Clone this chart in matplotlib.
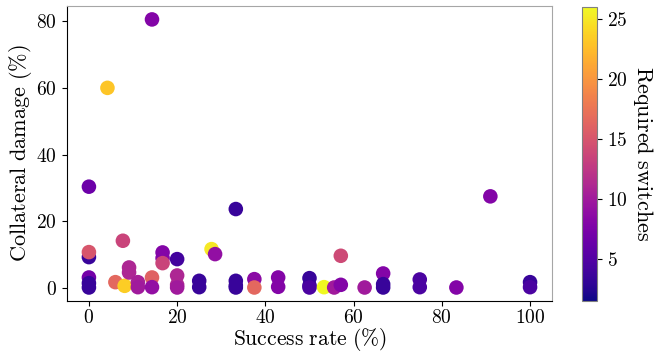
import matplotlib
matplotlib.use("Agg")
import matplotlib.pyplot as plt
import numpy as np

plt.rcParams['mathtext.fontset'] = 'cm'
plt.rcParams['font.family'] = 'serif'
plt.rcParams['font.serif'] = ['cmr10', 'DejaVu Serif']
plt.rcParams['axes.formatter.use_mathtext'] = True
plt.rcParams['axes.unicode_minus'] = False

# success rate (%), collateral damage (%), required switches
success = [14.3, 4.2, 0, 33.3, 91.0,
           0, 0, 0, 0, 0,
           7.7, 6.0, 8.1, 9.1, 9.1, 11.1, 11.1, 14.3, 14.3,
           16.7, 16.7, 16.7, 20, 20, 20, 20,
           25, 25, 27.8, 28.6, 33.3, 33.3, 33.3,
           37.5, 37.5, 42.9, 42.9, 50, 50, 50,
           53.3, 55.6, 57.1, 57.1, 62.5,
           66.7, 66.7, 66.7, 75, 75, 83.3, 100, 100]
damage = [80.5, 60.0, 30.4, 23.7, 27.5,
          9.3, 10.8, 3.2, 1.5, 0.2,
          14.2, 1.8, 0.7, 6.2, 4.7, 1.8, 0.3, 3.2, 0.3,
          10.7, 9.0, 7.5, 8.7, 3.8, 1.0, 0.2,
          2.2, 0.3, 11.7, 10.2, 2.2, 0.8, 0.2,
          2.7, 0.2, 3.2, 0.4, 3.0, 0.8, 0.2,
          0.3, 0.2, 1.0, 9.7, 0.2,
          4.4, 1.2, 0.2, 2.6, 0.3, 0.2, 1.8, 0.3]
switches = [8, 23, 6.5, 3.5, 8,
            3.5, 15, 7, 3.5, 3.5,
            13.5, 16.5, 23.5, 11, 11, 10.5, 10, 16, 9,
            8, 8, 13.5, 4, 11, 11, 10,
            3.5, 3.5, 25, 9, 3.5, 3.5, 3.5,
            8.5, 16.5, 8, 8, 3.5, 3.5, 4.5,
            26, 10, 8, 14, 10,
            8, 3.5, 3.5, 4.5, 4.5, 8, 3.5, 4.5]

fig = plt.figure(figsize=(6.62, 3.54), dpi=100)
ax = fig.add_axes([0.101, 0.15, 0.733, 0.833])
cax = fig.add_axes([0.879, 0.15, 0.023, 0.831])

sc = ax.scatter(success, damage, c=switches, cmap='plasma', vmin=1.5, vmax=26,
                s=110, linewidths=0)

ax.set_xlabel(r'$\mathrm{Success\ rate\ (\%)}$', fontsize=15.5, labelpad=-1)
ax.set_ylabel(r'$\mathrm{Collateral\ damage\ (\%)}$', fontsize=16, labelpad=2)
ax.set_xticks([0, 20, 40, 60, 80, 100])
ax.set_yticks([0, 20, 40, 60, 80])
ax.tick_params(labelsize=14)
ax.tick_params(axis='x', pad=2.5)
for side in ['top', 'right']:
    ax.spines[side].set_color('0.65')

cb = fig.colorbar(sc, cax=cax)
cb.set_ticks([5, 10, 15, 20, 25])
cb.ax.tick_params(labelsize=14)
cb.outline.set_edgecolor('0.5')
cb.set_label(r'$\mathrm{Required\ switches}$', fontsize=16, rotation=270, labelpad=20)

fig.savefig('out.png', dpi=100)
